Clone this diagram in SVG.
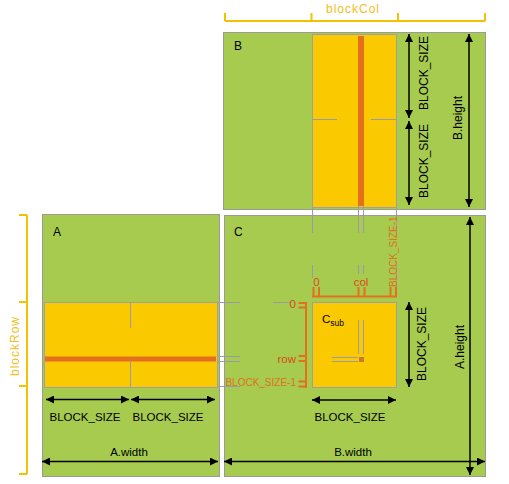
<svg xmlns="http://www.w3.org/2000/svg" width="509" height="484" viewBox="0 0 509 484">
<defs>
<marker id="ah" viewBox="0 0 10 10" refX="10" refY="5" markerWidth="9" markerHeight="8" markerUnits="userSpaceOnUse" orient="auto-start-reverse">
<path d="M0,0 L10,5 L0,10 z" fill="#000"/>
</marker>
<style>
.mat{fill:#a6cb4f;stroke:#9a9a9a;stroke-width:1}
.yel{fill:#fbc900;stroke:#a0a0a0;stroke-width:1}
.org{fill:#e4701e}
.gl{stroke:#9a9aa8;stroke-width:1;fill:none}
.br{stroke:#e4701e;stroke-width:2;fill:none}
.gold{stroke:#f2c200;stroke-width:2;fill:none}
.arr{stroke:#000;stroke-width:1.5;fill:none;marker-start:url(#ah);marker-end:url(#ah)}
text{font-family:"Liberation Sans",Arial,sans-serif;font-size:11.5px;fill:#000}
.vt{font-size:12px}
.lbl{font-size:12px}
.gt{fill:#f0c020;font-size:12px;letter-spacing:1px}
.rt{fill:#dc4a18;font-size:11.5px}
.ot{fill:#e07020;font-size:10px}
</style>
</defs>

<g id="blockCol">
<path class="gold" d="M225,21 H485 M225,13 V21 M311.5,13 V21 M398,13 V21 M485,13 V21"/>
<text class="gt" x="353" y="13" text-anchor="middle">blockCol</text>
</g>

<g id="blockRow">
<path class="gold" d="M27,215 V474 M19,215 H27 M19,302 H27 M19,386 H27 M19,474 H27"/>
<text class="gt" transform="translate(18.5,346) rotate(-90)" text-anchor="middle">blockRow</text>
</g>

<g id="B">
<rect class="mat" x="223.5" y="32.5" width="262" height="177"/>
<rect class="yel" x="312.5" y="34.5" width="84" height="173"/>
<rect class="org" x="358" y="36" width="6" height="170"/>
<path class="gl" d="M312,119.5 H337 M371,119.5 H396"/>
<text class="lbl" x="234" y="50">B</text>
</g>

<g id="A">
<rect class="mat" x="42.5" y="214.5" width="177" height="262"/>
<rect class="yel" x="44.5" y="302.5" width="173" height="85"/>
<rect class="org" x="45" y="356.5" width="171" height="5"/>
<path class="gl" d="M130.5,302 V328 M130.5,361 V387"/>
<text class="lbl" x="53" y="236">A</text>
</g>

<g id="C">
<rect class="mat" x="224.5" y="215.5" width="261" height="261"/>
<text class="lbl" x="234" y="236">C</text>
</g>

<g id="Csub">
<rect class="yel" x="312.5" y="302.5" width="84" height="85"/>
<path class="gl" d="M358.5,320 V354 M363.5,320 V354 M332,357.5 H358 M332,361.5 H358"/>
<rect x="359" y="357" width="5" height="5" fill="#c8783a"/>
<text x="322" y="323" font-size="13">C<tspan font-size="8.5" dy="3">sub</tspan></text>
</g>

<g id="connectors">
<path class="gl" d="M312.5,208 V233 M312.5,265 V278 M358.5,206 V233 M358.5,265 V274 M363.5,206 V233 M363.5,265 V274 M396.5,208 V233 M396.5,265 V290"/>
<path class="gl" d="M217,302.5 H240 M273,302.5 H290 M217,356.5 H240 M217,361.5 H240 M217,386.5 H240"/>
<path class="br" d="M312,296.5 H397 M313.5,287 V297 M319,287 V297 M358.5,287 V297 M364.5,287 V297 M390.5,287 V297 M396,287 V297"/>
<text class="rt" x="316.5" y="286" text-anchor="middle">0</text>
<text class="rt" x="361" y="286" text-anchor="middle">col</text>
<text class="ot" transform="translate(397,287) rotate(-90)">BLOCK_SIZE-1</text>
<path class="br" d="M306,302 V388 M298.5,303 H306 M298.5,307.5 H306 M298.5,356 H306 M298.5,361 H306 M298.5,381.5 H306 M298.5,386.5 H306"/>
<text class="rt" x="296" y="308" text-anchor="end">0</text>
<text class="rt" x="296" y="363" text-anchor="end">row</text>
<text class="ot" x="296" y="385.5" text-anchor="end">BLOCK_SIZE-1</text>

<line class="arr" x1="409" y1="34" x2="409" y2="118"/>
<line class="arr" x1="409" y1="121" x2="409" y2="205"/>
<text class="vt" transform="translate(428,73) rotate(-90)" text-anchor="middle">BLOCK_SIZE</text>
<text class="vt" transform="translate(428,161) rotate(-90)" text-anchor="middle">BLOCK_SIZE</text>
<line class="arr" x1="469" y1="34" x2="469" y2="207"/>
<text class="vt" transform="translate(461.5,118) rotate(-90)" text-anchor="middle">B.height</text>

<line class="arr" x1="46" y1="399.5" x2="129" y2="399.5"/>
<line class="arr" x1="131" y1="399.5" x2="215" y2="399.5"/>
<text x="85" y="421" text-anchor="middle">BLOCK_SIZE</text>
<text x="168" y="421" text-anchor="middle">BLOCK_SIZE</text>
<text x="129" y="456" text-anchor="middle">A.width</text>
<line class="arr" x1="42" y1="461.5" x2="218" y2="461.5"/>

<line class="arr" x1="409" y1="302" x2="409" y2="387"/>
<text class="vt" transform="translate(426,344) rotate(-90)" text-anchor="middle">BLOCK_SIZE</text>
<line class="arr" x1="312" y1="400" x2="396" y2="400"/>
<text x="350" y="421" text-anchor="middle">BLOCK_SIZE</text>
<line class="arr" x1="470" y1="217" x2="470" y2="475"/>
<text class="vt" transform="translate(463.5,347) rotate(-90)" text-anchor="middle">A.height</text>
<text x="353" y="456" text-anchor="middle">B.width</text>
<line class="arr" x1="224" y1="461.5" x2="485" y2="461.5"/>
</g>
</svg>
